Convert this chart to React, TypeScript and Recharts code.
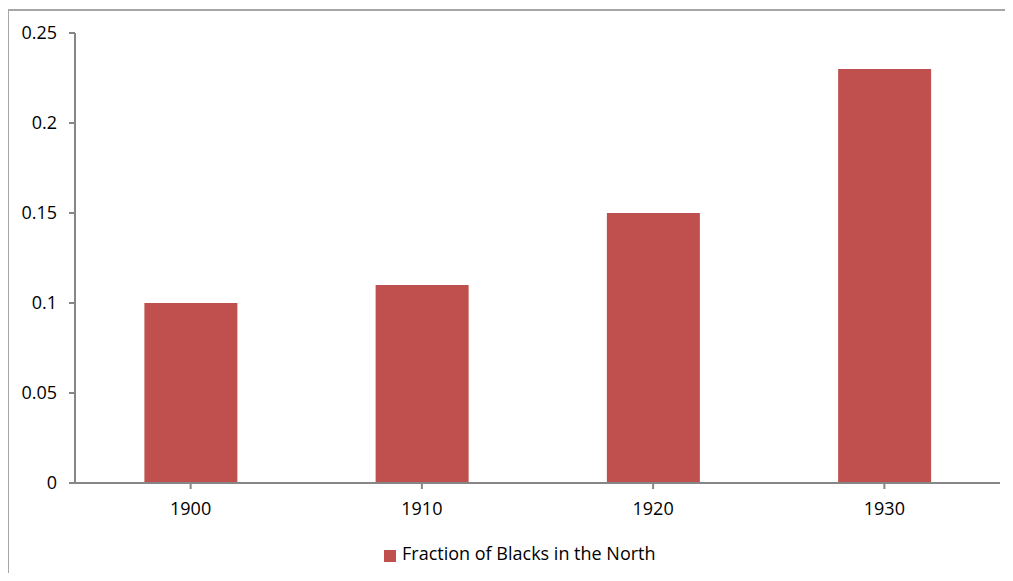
import React from "react";
import { BarChart, Bar, XAxis, YAxis, Legend } from "recharts";

const years = ["1900", "1910", "1920", "1930"];
const fractionNorth = [0.1, 0.11, 0.15, 0.23];
const yTicks = [0, 0.05, 0.1, 0.15, 0.2, 0.25];
const seriesName = "Fraction of Blacks in the North";

const data = years.map((y, i) => ({ year: y, value: fractionNorth[i] }));

const FONT = "'Open Sans', 'Noto Sans', sans-serif";
const AXIS = "#868686";

export default function App() {
  return (
    <div
      style={{
        position: "relative",
        width: 1005,
        height: 565,
        overflow: "hidden",
        fontFamily: FONT,
      }}
    >
      <div
        style={{
          position: "absolute",
          left: -1,
          top: 1,
          width: 1005,
          height: 564,
          borderLeft: "2px solid #a6a6a6",
          borderTop: "2px solid #a6a6a6",
          boxSizing: "border-box",
          pointerEvents: "none",
        }}
      />
      <BarChart
        width={1005}
        height={565}
        data={data}
        margin={{ top: 25, right: 13, left: 0, bottom: 26 }}
        barCategoryGap="30%"
      >
        <XAxis
          dataKey="year"
          axisLine={{ stroke: AXIS, strokeWidth: 2 }}
          tickLine={{ stroke: AXIS, strokeWidth: 2 }}
          tickSize={6}
          tickMargin={13}
          tick={{ fill: "#000", fontSize: 18, fontFamily: FONT }}
          height={40}
        />
        <YAxis
          width={67}
          domain={[0, 0.25]}
          ticks={yTicks}
          interval={0}
          axisLine={{ stroke: AXIS, strokeWidth: 2 }}
          tickLine={{ stroke: AXIS, strokeWidth: 2 }}
          tickSize={6}
          tickMargin={12}
          tick={{ fill: "#000", fontSize: 18, fontFamily: FONT }}
        />
        <Legend
          verticalAlign="bottom"
          iconType="square"
          iconSize={12}
          wrapperStyle={{ left: 376, width: "auto", bottom: 8 }}
          formatter={(v) => (
            <span style={{ color: "#000", fontSize: 18, marginLeft: 2 }}>{v}</span>
          )}
        />
        <Bar
          dataKey="value"
          name={seriesName}
          fill="#C0504D"
          isAnimationActive={false}
        />
      </BarChart>
    </div>
  );
}
